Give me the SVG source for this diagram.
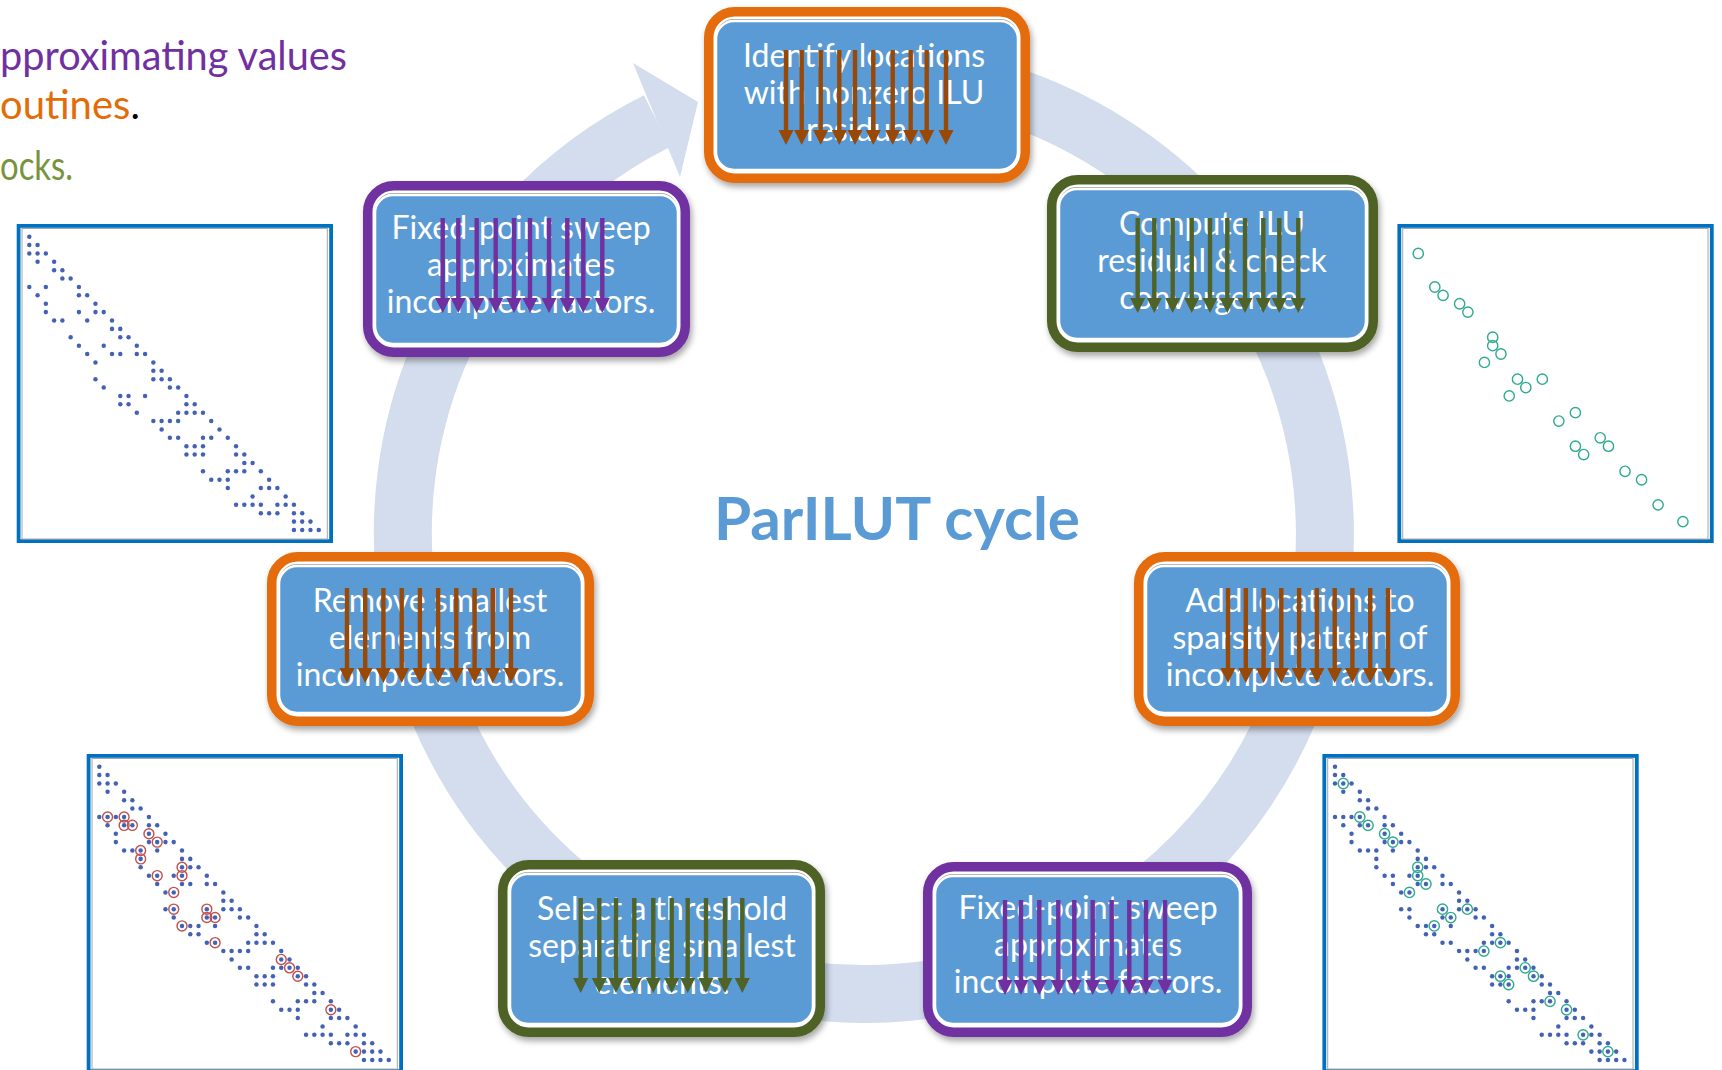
<svg xmlns="http://www.w3.org/2000/svg" xmlns:xlink="http://www.w3.org/1999/xlink" width="1722" height="1070" viewBox="0 0 1722 1070">
  <style>
    .frame { fill: #ffffff; stroke-width: 9.5; filter: url(#sh); }
    .orange .frame { stroke: #E46C0A; }
    .purple .frame { stroke: #7030A0; }
    .green .frame { stroke: #4F6228; }
    .card { fill: #5B9BD5; stroke: #ffffff; stroke-width: 2.5; }
    .cardsh { fill: #9e9e9e; }
    .lbl { font-family: Lato, "Open Sans", "Liberation Sans", sans-serif; font-size: 32px; fill: #ffffff; text-anchor: middle; }
    .orange .arr { fill: #984807; }
    .purple .arr { fill: #7030A0; }
    .green .arr { fill: #4F6228; }
    .note { font-family: Lato, "Open Sans", "Liberation Sans", sans-serif; font-size: 40px; }
    .title { font-family: Lato, "Open Sans", "Liberation Sans", sans-serif; font-size: 60px; font-weight: bold; fill: #5B9BD5; text-anchor: middle; }
    .dots circle { fill: #4462B4; }
    .red circle { fill: none; stroke: #C0504D; stroke-width: 0.17; }
    .teal circle { fill: none; stroke: #2EAA92; stroke-width: 0.17; }
  </style>
  <defs>
    <filter id="sh" x="-10%" y="-10%" width="125%" height="130%">
      <feDropShadow dx="2" dy="4" stdDeviation="3" flood-color="#000000" flood-opacity="0.35"/>
    </filter>
    <!-- downward arrow drawn over each step label -->
    <path id="da" d="M-2.2 0H2.2V80H7.5L0 95L-7.5 80H-2.2Z"/>
    <!-- frame around a sparsity plot (local coordinates, origin = first grid cell) -->
    <g id="mframe">
      <rect x="-10.7" y="-10.8" width="312.5" height="315.2" fill="#ffffff" stroke="#0070C0" stroke-width="3.8"/>
      <rect x="-7.3" y="-8.2" width="305.3" height="310.5" fill="none" stroke="#a6a6a6" stroke-width="1"/>
    </g>
    <!-- initial sparsity pattern (column, row) -->
    <g id="base" class="dots">
      <circle cx="0" cy="0" r=".27"/>
      <circle cx="0" cy="1" r=".27"/><circle cx="1" cy="1" r=".27"/>
      <circle cx="0" cy="2" r=".27"/><circle cx="1" cy="2" r=".27"/><circle cx="2" cy="2" r=".27"/>
      <circle cx="1" cy="3" r=".27"/><circle cx="3" cy="3" r=".27"/>
      <circle cx="3" cy="4" r=".27"/><circle cx="4" cy="4" r=".27"/>
      <circle cx="4" cy="5" r=".27"/><circle cx="5" cy="5" r=".27"/>
      <circle cx="0" cy="6" r=".27"/><circle cx="2" cy="6" r=".27"/><circle cx="6" cy="6" r=".27"/>
      <circle cx="1" cy="7" r=".27"/><circle cx="6" cy="7" r=".27"/><circle cx="7" cy="7" r=".27"/>
      <circle cx="2" cy="8" r=".27"/><circle cx="8" cy="8" r=".27"/>
      <circle cx="2" cy="9" r=".27"/><circle cx="6" cy="9" r=".27"/><circle cx="8" cy="9" r=".27"/><circle cx="9" cy="9" r=".27"/>
      <circle cx="3" cy="10" r=".27"/><circle cx="4" cy="10" r=".27"/><circle cx="7" cy="10" r=".27"/><circle cx="10" cy="10" r=".27"/>
      <circle cx="10" cy="11" r=".27"/><circle cx="11" cy="11" r=".27"/>
      <circle cx="5" cy="12" r=".27"/><circle cx="11" cy="12" r=".27"/><circle cx="12" cy="12" r=".27"/>
      <circle cx="6" cy="13" r=".27"/><circle cx="9" cy="13" r=".27"/><circle cx="13" cy="13" r=".27"/>
      <circle cx="7" cy="14" r=".27"/><circle cx="10" cy="14" r=".27"/><circle cx="11" cy="14" r=".27"/><circle cx="13" cy="14" r=".27"/><circle cx="14" cy="14" r=".27"/>
      <circle cx="8" cy="15" r=".27"/><circle cx="15" cy="15" r=".27"/>
      <circle cx="15" cy="16" r=".27"/><circle cx="16" cy="16" r=".27"/>
      <circle cx="8" cy="17" r=".27"/><circle cx="15" cy="17" r=".27"/><circle cx="16" cy="17" r=".27"/><circle cx="17" cy="17" r=".27"/>
      <circle cx="9" cy="18" r=".27"/><circle cx="17" cy="18" r=".27"/><circle cx="18" cy="18" r=".27"/>
      <circle cx="11" cy="19" r=".27"/><circle cx="12" cy="19" r=".27"/><circle cx="14" cy="19" r=".27"/><circle cx="19" cy="19" r=".27"/>
      <circle cx="11" cy="20" r=".27"/><circle cx="12" cy="20" r=".27"/><circle cx="19" cy="20" r=".27"/><circle cx="20" cy="20" r=".27"/>
      <circle cx="13" cy="21" r=".27"/><circle cx="18" cy="21" r=".27"/><circle cx="19" cy="21" r=".27"/><circle cx="20" cy="21" r=".27"/><circle cx="21" cy="21" r=".27"/>
      <circle cx="15" cy="22" r=".27"/><circle cx="16" cy="22" r=".27"/><circle cx="17" cy="22" r=".27"/><circle cx="18" cy="22" r=".27"/><circle cx="22" cy="22" r=".27"/>
      <circle cx="16" cy="23" r=".27"/><circle cx="23" cy="23" r=".27"/>
      <circle cx="17" cy="24" r=".27"/><circle cx="18" cy="24" r=".27"/><circle cx="21" cy="24" r=".27"/><circle cx="22" cy="24" r=".27"/><circle cx="24" cy="24" r=".27"/>
      <circle cx="19" cy="25" r=".27"/><circle cx="20" cy="25" r=".27"/><circle cx="21" cy="25" r=".27"/><circle cx="25" cy="25" r=".27"/>
      <circle cx="19" cy="26" r=".27"/><circle cx="20" cy="26" r=".27"/><circle cx="21" cy="26" r=".27"/><circle cx="25" cy="26" r=".27"/><circle cx="26" cy="26" r=".27"/>
      <circle cx="26" cy="27" r=".27"/><circle cx="27" cy="27" r=".27"/>
      <circle cx="21" cy="28" r=".27"/><circle cx="24" cy="28" r=".27"/><circle cx="25" cy="28" r=".27"/><circle cx="26" cy="28" r=".27"/><circle cx="28" cy="28" r=".27"/>
      <circle cx="22" cy="29" r=".27"/><circle cx="23" cy="29" r=".27"/><circle cx="24" cy="29" r=".27"/><circle cx="29" cy="29" r=".27"/>
      <circle cx="24" cy="30" r=".27"/><circle cx="28" cy="30" r=".27"/><circle cx="29" cy="30" r=".27"/><circle cx="30" cy="30" r=".27"/>
      <circle cx="27" cy="31" r=".27"/><circle cx="31" cy="31" r=".27"/>
      <circle cx="25" cy="32" r=".27"/><circle cx="26" cy="32" r=".27"/><circle cx="27" cy="32" r=".27"/><circle cx="28" cy="32" r=".27"/><circle cx="30" cy="32" r=".27"/><circle cx="31" cy="32" r=".27"/><circle cx="32" cy="32" r=".27"/>
      <circle cx="28" cy="33" r=".27"/><circle cx="29" cy="33" r=".27"/><circle cx="30" cy="33" r=".27"/><circle cx="32" cy="33" r=".27"/><circle cx="33" cy="33" r=".27"/>
      <circle cx="32" cy="34" r=".27"/><circle cx="33" cy="34" r=".27"/><circle cx="34" cy="34" r=".27"/>
      <circle cx="32" cy="35" r=".27"/><circle cx="33" cy="35" r=".27"/><circle cx="34" cy="35" r=".27"/><circle cx="35" cy="35" r=".27"/>
    </g>
    <!-- entries added to the pattern -->
    <g id="extra" class="dots">
      <circle cx="1" cy="6" r=".27"/><circle cx="3" cy="6" r=".27"/><circle cx="3" cy="7" r=".27"/><circle cx="4" cy="7" r=".27"/>
      <circle cx="6" cy="8" r=".27"/><circle cx="7" cy="9" r=".27"/><circle cx="5" cy="10" r=".27"/><circle cx="5" cy="11" r=".27"/>
      <circle cx="10" cy="12" r=".27"/><circle cx="7" cy="13" r=".27"/><circle cx="10" cy="13" r=".27"/><circle cx="9" cy="15" r=".27"/>
      <circle cx="9" cy="17" r=".27"/><circle cx="13" cy="17" r=".27"/><circle cx="13" cy="18" r=".27"/><circle cx="14" cy="18" r=".27"/>
      <circle cx="10" cy="19" r=".27"/><circle cx="14" cy="21" r=".27"/><circle cx="22" cy="23" r=".27"/><circle cx="23" cy="24" r=".27"/>
      <circle cx="24" cy="25" r=".27"/><circle cx="28" cy="29" r=".27"/><circle cx="31" cy="34" r=".27"/>
    </g>
    <!-- ring markers for removed entries -->
    <g id="removed" class="red">
      <circle cx="1" cy="6" r=".6"/><circle cx="3" cy="6" r=".6"/><circle cx="3" cy="7" r=".6"/><circle cx="4" cy="7" r=".6"/>
      <circle cx="6" cy="8" r=".6"/><circle cx="7" cy="9" r=".6"/><circle cx="5" cy="10" r=".6"/><circle cx="5" cy="11" r=".6"/>
      <circle cx="10" cy="12" r=".6"/><circle cx="7" cy="13" r=".6"/><circle cx="10" cy="13" r=".6"/><circle cx="9" cy="15" r=".6"/>
      <circle cx="9" cy="17" r=".6"/><circle cx="13" cy="17" r=".6"/><circle cx="13" cy="18" r=".6"/><circle cx="14" cy="18" r=".6"/>
      <circle cx="10" cy="19" r=".6"/><circle cx="14" cy="21" r=".6"/><circle cx="22" cy="23" r=".6"/><circle cx="23" cy="24" r=".6"/>
      <circle cx="24" cy="25" r=".6"/><circle cx="28" cy="29" r=".6"/><circle cx="31" cy="34" r=".6"/>
    </g>
    <!-- ring markers for new locations -->
    <g id="added" class="teal">
      <circle cx="1" cy="2" r=".62"/><circle cx="3" cy="6" r=".62"/><circle cx="4" cy="7" r=".62"/><circle cx="6" cy="8" r=".62"/>
      <circle cx="7" cy="9" r=".62"/><circle cx="10" cy="12" r=".62"/><circle cx="10" cy="13" r=".62"/><circle cx="11" cy="14" r=".62"/>
      <circle cx="9" cy="15" r=".62"/><circle cx="13" cy="17" r=".62"/><circle cx="16" cy="17" r=".62"/><circle cx="14" cy="18" r=".62"/>
      <circle cx="12" cy="19" r=".62"/><circle cx="20" cy="21" r=".62"/><circle cx="18" cy="22" r=".62"/><circle cx="23" cy="24" r=".62"/>
      <circle cx="20" cy="25" r=".62"/><circle cx="24" cy="25" r=".62"/><circle cx="21" cy="26" r=".62"/><circle cx="26" cy="28" r=".62"/>
      <circle cx="28" cy="29" r=".62"/><circle cx="30" cy="32" r=".62"/><circle cx="33" cy="34" r=".62"/>
    </g>
  </defs>

  <rect width="1722" height="1070" fill="#ffffff"/>

  <!-- legend text, running off the left edge -->
  <g id="legend" class="note">
    <text x="0" y="70" fill="#7030A0" textLength="347" lengthAdjust="spacingAndGlyphs">pproximating values</text>
    <text x="0" y="119"><tspan fill="#E36C09">outines</tspan><tspan fill="#000000">.</tspan></text>
    <text x="0" y="180" fill="#77933C" textLength="73" lengthAdjust="spacingAndGlyphs">ocks.</text>
  </g>

  <!-- circular cycle arrow -->
  <g id="connectors">
    <path d="M823.8 73.8A461 461 0 1 1 656.9 121.1" fill="none" stroke="#D3DDED" stroke-width="58"/>
    <polygon points="633,63 698,102 680,177" fill="#D3DDED"/>
  </g>

  <text id="title" class="title" x="897" y="540" textLength="366" lengthAdjust="spacingAndGlyphs">ParILUT cycle</text>

  <!-- sparsity plots -->
  <g id="matrix-initial" transform="translate(29.3 236.7)">
    <use xlink:href="#mframe"/>
    <g transform="scale(8.27 8.38)"><use xlink:href="#base"/></g>
  </g>
  <g id="matrix-residual" transform="translate(1410 236.7)">
    <use xlink:href="#mframe"/>
    <g transform="scale(8.27 8.38)"><use xlink:href="#added"/></g>
  </g>
  <g id="matrix-remove" transform="translate(99.3 766.7)">
    <use xlink:href="#mframe"/>
    <g transform="scale(8.27 8.38)"><use xlink:href="#base"/><use xlink:href="#extra"/><use xlink:href="#removed"/></g>
  </g>
  <g id="matrix-add" transform="translate(1335 766.7)">
    <use xlink:href="#mframe"/>
    <g transform="scale(8.27 8.38)"><use xlink:href="#base"/><use xlink:href="#extra"/><use xlink:href="#added"/></g>
  </g>

  <!-- step: identify -->
  <g id="step-identify" class="orange">
    <rect class="frame" x="708.75" y="11.75" width="316.5" height="166.5" rx="26"/>
    <rect class="cardsh" x="716" y="19" width="302" height="149" rx="18"/>
    <rect class="card" x="716" y="21" width="302" height="149" rx="18"/>
    <text class="lbl"><tspan x="864" y="67">Identify locations</tspan><tspan x="864" y="104">with nonzero ILU</tspan><tspan x="864" y="141">residual.</tspan></text>
    <g class="arr">
      <use xlink:href="#da" x="786" y="50"/><use xlink:href="#da" x="801.7" y="50"/><use xlink:href="#da" x="820.7" y="50"/><use xlink:href="#da" x="839.3" y="50"/><use xlink:href="#da" x="855" y="50"/>
      <use xlink:href="#da" x="873.3" y="50"/><use xlink:href="#da" x="892.7" y="50"/><use xlink:href="#da" x="910.7" y="50"/><use xlink:href="#da" x="926.7" y="50"/><use xlink:href="#da" x="946" y="50"/>
    </g>
  </g>

  <!-- step: compute residual -->
  <g id="step-residual" class="green">
    <rect class="frame" x="1051.75" y="179.75" width="321.5" height="167.5" rx="26"/>
    <rect class="cardsh" x="1059" y="187" width="307" height="150" rx="18"/>
    <rect class="card" x="1059" y="189" width="307" height="150" rx="18"/>
    <text class="lbl"><tspan x="1212" y="235">Compute ILU</tspan><tspan x="1212" y="272">residual &amp; check</tspan><tspan x="1212" y="309">convergence.</tspan></text>
    <g class="arr">
      <use xlink:href="#da" x="1137.7" y="218"/><use xlink:href="#da" x="1154.3" y="218"/><use xlink:href="#da" x="1172.7" y="218"/><use xlink:href="#da" x="1191.7" y="218"/><use xlink:href="#da" x="1210" y="218"/>
      <use xlink:href="#da" x="1227.3" y="218"/><use xlink:href="#da" x="1245" y="218"/><use xlink:href="#da" x="1263.3" y="218"/><use xlink:href="#da" x="1279.3" y="218"/><use xlink:href="#da" x="1298.3" y="218"/>
    </g>
  </g>

  <!-- step: add locations -->
  <g id="step-add" class="orange">
    <rect class="frame" x="1138.75" y="556.75" width="316.5" height="164.5" rx="26"/>
    <rect class="cardsh" x="1146" y="564" width="302" height="147" rx="18"/>
    <rect class="card" x="1146" y="566" width="302" height="147" rx="18"/>
    <text class="lbl"><tspan x="1300" y="612">Add locations to</tspan><tspan x="1300" y="649">sparsity pattern of</tspan><tspan x="1300" y="686">incomplete factors.</tspan></text>
    <g class="arr">
      <use xlink:href="#da" x="1228" y="588"/><use xlink:href="#da" x="1245.8" y="588"/><use xlink:href="#da" x="1263.6" y="588"/><use xlink:href="#da" x="1281.3" y="588"/><use xlink:href="#da" x="1299.1" y="588"/>
      <use xlink:href="#da" x="1316.9" y="588"/><use xlink:href="#da" x="1334.7" y="588"/><use xlink:href="#da" x="1352.4" y="588"/><use xlink:href="#da" x="1370.2" y="588"/><use xlink:href="#da" x="1388" y="588"/>
    </g>
  </g>

  <!-- step: sweep after adding -->
  <g id="step-sweep-add" class="purple">
    <rect class="frame" x="927.75" y="866.75" width="319.5" height="165.5" rx="26"/>
    <rect class="cardsh" x="935" y="874" width="305" height="148" rx="18"/>
    <rect class="card" x="935" y="876" width="305" height="148" rx="18"/>
    <text class="lbl"><tspan x="1088" y="919">Fixed-point sweep</tspan><tspan x="1088" y="956">approximates</tspan><tspan x="1088" y="993">incomplete factors.</tspan></text>
    <g class="arr">
      <use xlink:href="#da" x="1005" y="900"/><use xlink:href="#da" x="1021" y="900"/><use xlink:href="#da" x="1039.3" y="900"/><use xlink:href="#da" x="1058.3" y="900"/><use xlink:href="#da" x="1074.3" y="900"/>
      <use xlink:href="#da" x="1092.7" y="900"/><use xlink:href="#da" x="1111.7" y="900"/><use xlink:href="#da" x="1129.3" y="900"/><use xlink:href="#da" x="1146" y="900"/><use xlink:href="#da" x="1165" y="900"/>
    </g>
  </g>

  <!-- step: threshold -->
  <g id="step-threshold" class="green">
    <rect class="frame" x="502.75" y="864.75" width="317.5" height="167.5" rx="26"/>
    <rect class="cardsh" x="510" y="872" width="303" height="150" rx="18"/>
    <rect class="card" x="510" y="874" width="303" height="150" rx="18"/>
    <text class="lbl"><tspan x="662" y="920">Select a threshold</tspan><tspan x="662" y="957">separating smallest</tspan><tspan x="662" y="994">elements.</tspan></text>
    <g class="arr">
      <use xlink:href="#da" x="580.7" y="898"/><use xlink:href="#da" x="599.3" y="898"/><use xlink:href="#da" x="616" y="898"/><use xlink:href="#da" x="634.3" y="898"/><use xlink:href="#da" x="653.3" y="898"/>
      <use xlink:href="#da" x="671.7" y="898"/><use xlink:href="#da" x="687.7" y="898"/><use xlink:href="#da" x="706" y="898"/><use xlink:href="#da" x="725" y="898"/><use xlink:href="#da" x="742.3" y="898"/>
    </g>
  </g>

  <!-- step: remove smallest -->
  <g id="step-remove" class="orange">
    <rect class="frame" x="271.75" y="556.75" width="317.5" height="164.5" rx="26"/>
    <rect class="cardsh" x="279" y="564" width="303" height="147" rx="18"/>
    <rect class="card" x="279" y="566" width="303" height="147" rx="18"/>
    <text class="lbl"><tspan x="430" y="612">Remove smallest</tspan><tspan x="430" y="649">elements from</tspan><tspan x="430" y="686">incomplete factors.</tspan></text>
    <g class="arr">
      <use xlink:href="#da" x="347" y="588"/><use xlink:href="#da" x="365.2" y="588"/><use xlink:href="#da" x="383.4" y="588"/><use xlink:href="#da" x="401.7" y="588"/><use xlink:href="#da" x="419.9" y="588"/>
      <use xlink:href="#da" x="438.1" y="588"/><use xlink:href="#da" x="456.3" y="588"/><use xlink:href="#da" x="474.6" y="588"/><use xlink:href="#da" x="492.8" y="588"/><use xlink:href="#da" x="511" y="588"/>
    </g>
  </g>

  <!-- step: sweep after removing -->
  <g id="step-sweep-remove" class="purple">
    <rect class="frame" x="367.75" y="185.75" width="317.5" height="166.5" rx="26"/>
    <rect class="cardsh" x="375" y="193" width="303" height="149" rx="18"/>
    <rect class="card" x="375" y="195" width="303" height="149" rx="18"/>
    <text class="lbl"><tspan x="521" y="239">Fixed-point sweep</tspan><tspan x="521" y="276">approximates</tspan><tspan x="521" y="313">incomplete factors.</tspan></text>
    <g class="arr">
      <use xlink:href="#da" x="442.7" y="218"/><use xlink:href="#da" x="458.3" y="218"/><use xlink:href="#da" x="476.7" y="218"/><use xlink:href="#da" x="495.7" y="218"/><use xlink:href="#da" x="514" y="218"/>
      <use xlink:href="#da" x="530" y="218"/><use xlink:href="#da" x="549" y="218"/><use xlink:href="#da" x="567.3" y="218"/><use xlink:href="#da" x="583.3" y="218"/><use xlink:href="#da" x="602.3" y="218"/>
    </g>
  </g>
</svg>
